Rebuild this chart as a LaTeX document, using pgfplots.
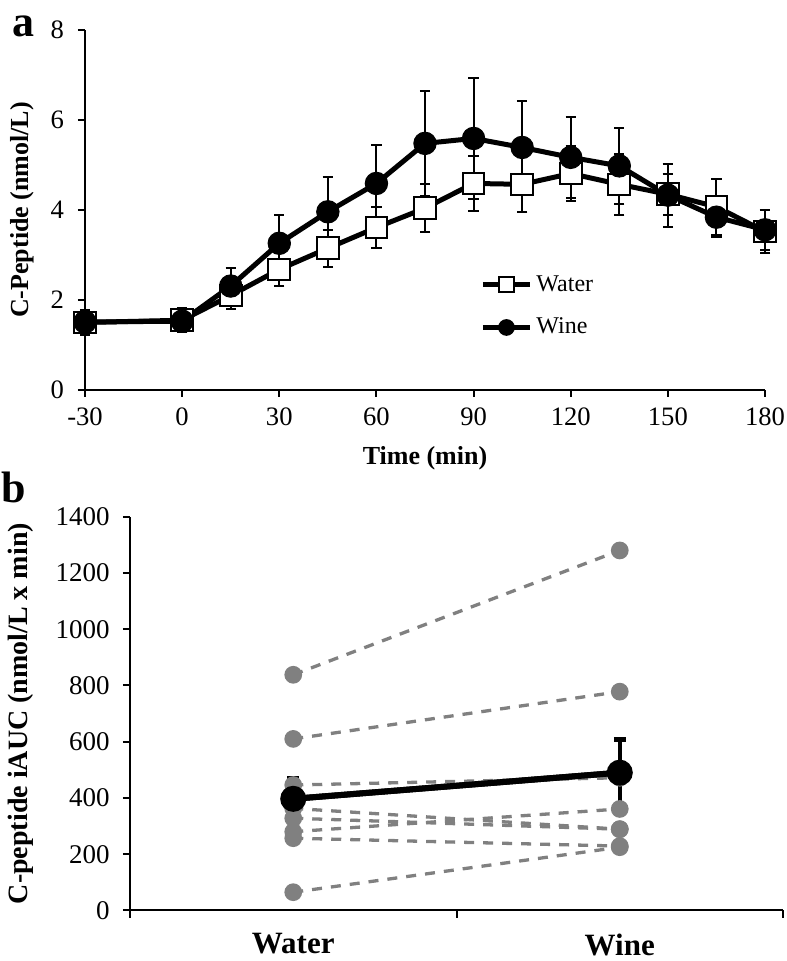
\documentclass[border=0pt]{standalone}
\usepackage{fontspec}
\setmainfont{Liberation Serif}
\usepackage{pgfplots}
\usepackage{pgfplotstable}
\pgfplotsset{compat=1.18}

\definecolor{dotgray}{RGB}{128,128,128}

% panel a: time, mean, error
\pgfplotstableread{
t m e
-30 1.50 0.27
0 1.55 0.27
15 2.10 0.30
30 2.68 0.36
45 3.15 0.41
60 3.61 0.46
75 4.04 0.54
90 4.59 0.62
105 4.57 0.62
120 4.81 0.61
135 4.57 0.68
150 4.35 0.46
165 4.07 0.62
180 3.52 0.48
}\watertab

\pgfplotstableread{
t m e
-30 1.51 0.25
0 1.53 0.25
15 2.31 0.39
30 3.26 0.63
45 3.96 0.78
60 4.59 0.85
75 5.48 1.17
90 5.59 1.35
105 5.39 1.04
120 5.17 0.90
135 4.98 0.85
150 4.33 0.70
165 3.84 0.45
180 3.56 0.44
}\winetab

\tikzset{
  paired/.style={dotgray, line width=1.65pt, dash pattern=on 5pt off 4.5pt,
    mark=*, mark size=3.6pt, mark options={solid, fill=dotgray, draw=none}},
}

\begin{document}
\begin{tikzpicture}
\path[use as bounding box] (0,0) rectangle (393pt,480.5pt);

\begin{axis}[
  at={(42.5pt,285.5pt)}, anchor=south west,
  scale only axis, width=340pt, height=180pt,
  xmin=-30, xmax=180, ymin=0, ymax=8,
  xtick={-30,0,...,180}, xticklabels={-30,0,30,60,90,120,150,180},
  ytick={0,2,4,6,8},
  axis x line=bottom, axis y line=left,
  axis line style={-, line width=1pt},
  tick align=outside, major tick length=3.5pt,
  tick style={line width=1pt, black},
  ticklabel style={font=\fontsize{13.3}{15}\selectfont},
  yticklabel style={xshift=-3.5pt},
  xticklabel style={yshift=-2pt},
  /pgf/number format/assume math mode=true,
  xlabel={Time (min)}, ylabel={C-Peptide (nmol/L)},
  label style={font=\bfseries\fontsize{13}{15}\selectfont},
  xlabel style={at={(axis description cs:0.5,-0.189)}, anchor=center},
  ylabel style={at={(axis description cs:-0.0926,0.5)}, anchor=center},
  clip=false,
  legend style={at={(axis description cs:0.581,0.233)}, anchor=west,
    draw=none, fill=none, font=\fontsize{12}{14}\selectfont, row sep=8pt,
    inner sep=0pt},
  legend cell align=left,
  legend image code/.code={%
    \draw[mark repeat=2, mark phase=2, #1, every mark/.append style={scale=0.7}]
      plot coordinates {(0pt,0pt) (11.75pt,0pt) (23.5pt,0pt)};},
]
\addplot[black, line width=2.5pt, mark=square*,
  mark size=5.4pt, mark options={fill=white, draw=black, line width=1pt},
  error bars/.cd, y dir=both, y explicit,
  error bar style={line width=1pt, black},
  error mark options={rotate=90, line width=1pt, mark size=2.6pt, black}]
  table[x=t, y=m, y error=e] {\watertab};
\addlegendentry{Water}
\addplot[black, line width=2.5pt, mark=*,
  mark size=5.6pt, mark options={fill=black, draw=black, line width=0.5pt},
  error bars/.cd, y dir=both, y explicit,
  error bar style={line width=1pt, black},
  error mark options={rotate=90, line width=1pt, mark size=2.6pt, black}]
  table[x=t, y=m, y error=e] {\winetab};
\addlegendentry{Wine}
\node[font=\bfseries\fontsize{22}{24}\selectfont] at (axis description cs:-0.0897,1.01) {a};
\end{axis}

\begin{axis}[
  at={(65pt,25.25pt)}, anchor=south west,
  scale only axis, width=326.5pt, height=196.9pt,
  xmin=0.5, xmax=2.5, ymin=0, ymax=1400,
  xtick={0.5,1.5,2.5}, xticklabels={},
  extra x ticks={1,2}, extra x tick labels={Water,Wine},
  extra x tick style={major tick length=0pt,
    tick label style={font=\bfseries\fontsize{15.5}{17}\selectfont, yshift=-8pt}},
  ytick={0,200,...,1400},
  axis x line=bottom, axis y line=left,
  axis line style={-, line width=1pt},
  tick align=outside, major tick length=3.5pt,
  tick style={line width=1pt, black},
  ticklabel style={font=\fontsize{13.5}{15}\selectfont},
  yticklabel style={xshift=-3.2pt},
  /pgf/number format/assume math mode=true,
  /pgf/number format/1000 sep={},
  ylabel={C-peptide iAUC (nmol/L x min)},
  ylabel style={font=\bfseries\fontsize{14}{16}\selectfont,
    at={(axis description cs:-0.168,0.5)}, anchor=center},
  clip=false,
]
% mean +- error, drawn first so the grey dots lie on the bars
\addplot[black, line width=3pt, mark=none,
  error bars/.cd, y dir=both, y explicit,
  error bar style={line width=2pt, black},
  error mark options={rotate=90, line width=2.2pt, mark size=3pt, black}]
  coordinates {(1,397) +- (0,75) (2,490) +- (0,118)};
% individual subjects
\addplot[paired] coordinates {(1,838) (2,1280)};
\addplot[paired] coordinates {(1,610) (2,778)};
\addplot[paired] coordinates {(1,446) (2,472)};
\addplot[paired] coordinates {(1,363) (2,289)};
\addplot[paired] coordinates {(1,328) (2,289)};
\addplot[paired] coordinates {(1,280) (2,361)};
\addplot[paired] coordinates {(1,257) (2,229)};
\addplot[paired] coordinates {(1,65) (2,225)};
% mean on top
\addplot[black, line width=3pt, mark=*, mark size=5pt]
  coordinates {(1,397) (2,490)};
\node[font=\bfseries\fontsize{22}{24}\selectfont] at (axis description cs:-0.178,1.075) {b};
\end{axis}
\end{tikzpicture}
\end{document}
